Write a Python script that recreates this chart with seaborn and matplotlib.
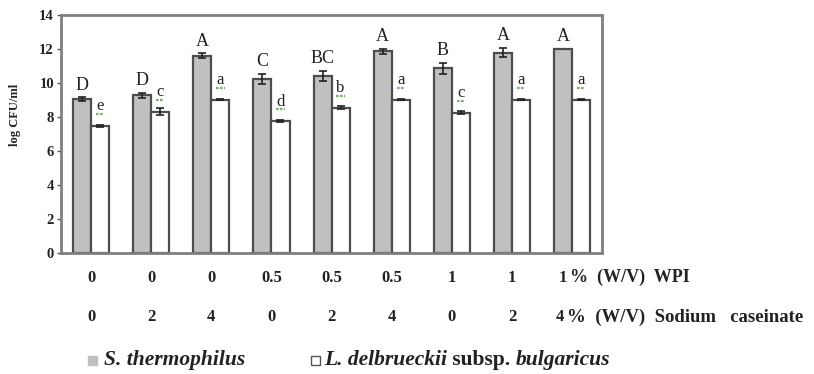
import matplotlib
matplotlib.use("Agg")
import matplotlib.pyplot as plt
import matplotlib.transforms as mtransforms
from matplotlib.patches import Rectangle
import seaborn as sns
import pandas as pd

# Treatments: whey protein isolate and sodium caseinate levels (% W/V)
wpi = ["0", "0", "0", "0.5", "0.5", "0.5", "1", "1", "1"]
caseinate = ["0", "2", "4", "0", "2", "4", "0", "2", "4"]

# Viable counts (log CFU/ml) and standard errors
s_thermo = [9.05, 9.28, 11.6, 10.25, 10.42, 11.85, 10.85, 11.78, 12.0]
s_thermo_err = [0.1, 0.15, 0.15, 0.3, 0.3, 0.15, 0.35, 0.28, 0.0]
l_bulg = [7.48, 8.3, 9.02, 7.75, 8.55, 9.02, 8.25, 9.02, 9.02]
l_bulg_err = [0.06, 0.2, 0.05, 0.06, 0.08, 0.05, 0.1, 0.05, 0.05]

# Significance letters
s_letters = ["D", "D", "A", "C", "BC", "A", "B", "A", "A"]
l_letters = ["e", "c", "a", "d", "b", "a", "c", "a", "a"]

series = ["S. thermophilus", "L. delbrueckii subsp. bulgaricus"]

n = len(wpi)
df = pd.DataFrame({
    "treatment": list(range(n)) * 2,
    "strain": [series[0]] * n + [series[1]] * n,
    "count": s_thermo + l_bulg,
})

sns.set_theme(style="white")
plt.rcParams["font.family"] = ["Liberation Serif", "DejaVu Serif"]

fig = plt.figure(figsize=(8.14, 3.74), dpi=100)
ax = fig.add_axes([0.0749, 0.3243, 0.665, 0.6357])

edge = "#4d4d4d"
sns.barplot(data=df, x="treatment", y="count", hue="strain",
            palette={series[0]: "#c0c0c0", series[1]: "#ffffff"},
            width=0.6, errorbar=None, ax=ax, legend=False,
            edgecolor=edge, linewidth=1.6)

# Error bars and letters placed from the bar geometry
errs = [s_thermo_err, l_bulg_err]
vals = [s_thermo, l_bulg]
squiggle_shift = mtransforms.ScaledTranslation(0, 12 / 100, fig.dpi_scale_trans)
bar_containers = list(ax.containers)
for k, cont in enumerate(bar_containers):
    for i, bar in enumerate(cont.patches):
        xc = bar.get_x() + bar.get_width() / 2
        v = vals[k][i]
        e = errs[k][i]
        if e > 0:
            ax.errorbar(xc, v, yerr=e, fmt="none", ecolor="#222222",
                        elinewidth=1.2, capsize=3, capthick=1.2, zorder=5)
        if k == 0:
            ax.annotate(s_letters[i], (xc, v + e), xytext=(0, 5.5),
                        textcoords="offset points", ha="center",
                        va="baseline", fontsize=13, color="#222222")
        else:
            ax.annotate(l_letters[i], (xc, v), xytext=(0, 11),
                        textcoords="offset points", ha="center",
                        va="baseline", fontsize=12, color="#222222")
            # green underline beneath the lowercase letter
            ax.plot([xc - 0.07, xc + 0.07], [v, v], color="#7fb069",
                    lw=1.6, ls=(0, (1.2, 0.6)), solid_capstyle="butt",
                    transform=ax.transData + squiggle_shift, zorder=6)

ax.set_ylim(0, 14)
ax.set_xlim(-0.5, n - 0.5)
ax.set_yticks(range(0, 15, 2))
ax.set_yticklabels([str(t) for t in range(0, 15, 2)], fontsize=10.5,
                   fontweight="bold", color="#222222")
ax.tick_params(axis="y", direction="out", length=3, width=1, color="#555555",
               left=True, pad=2)
ax.set_xticks([])
ax.set_xlabel("")
ax.set_ylabel("log CFU/ml", fontsize=9, fontweight="bold", color="#222222")
ax.yaxis.set_label_coords(-0.074, 0.58)

for s in ax.spines.values():
    s.set_color("#7f7f7f")
    s.set_linewidth(2)

# Two rows of treatment labels below the axis
blend = mtransforms.blended_transform_factory(ax.transData, ax.transAxes)
row1_y, row2_y = -0.105, -0.27
lab_kw = dict(transform=blend, va="center", fontsize=12, fontweight="bold",
              color="#222222")
for i in range(n - 1):
    ax.text(i, row1_y, wpi[i], ha="center", **lab_kw)
    ax.text(i, row2_y, caseinate[i], ha="center", **lab_kw)
ax.text(n - 1.23, row1_y, wpi[-1], ha="left", **lab_kw)
ax.text(n - 1.03, row1_y, "%  (W/V)  WPI", ha="left",
        **{**lab_kw, "fontsize": 13})
ax.text(n - 1.28, row2_y, caseinate[-1], ha="left", **lab_kw)
ax.text(n - 1.08, row2_y, "%  (W/V)  Sodium   caseinate", ha="left",
        **{**lab_kw, "fontsize": 13.5})

# Legend row drawn piece by piece to mix italic and upright text
ly = 1 - 360 / 374
fig.patches.append(Rectangle((88 / 814, ly - 4.5 / 374), 9 / 814, 9 / 374,
                             transform=fig.transFigure, facecolor="#c0c0c0",
                             edgecolor="#c0c0c0", figure=fig))
fig.text(104 / 814, ly, "S. thermophilus", fontsize=15.5, fontweight="bold",
         fontstyle="italic", va="center", ha="left", color="#222222")
fig.patches.append(Rectangle((311 / 814, ly - 4.5 / 374), 9 / 814, 9 / 374,
                             transform=fig.transFigure, facecolor="white",
                             edgecolor="#555555", linewidth=1, figure=fig))
renderer = fig.canvas.get_renderer()
x0 = 324 / 814
pieces = [("L. delbrueckii", "italic"), (" subsp. ", "normal"),
          ("bulgaricus", "italic")]
for txt, style in pieces:
    t = fig.text(x0, ly, txt, fontsize=15.5, fontweight="bold",
                 fontstyle=style, va="center", ha="left", color="#222222")
    bb = t.get_window_extent(renderer=renderer)
    x0 += bb.width / fig.bbox.width

fig.savefig("out.png", dpi=100)
